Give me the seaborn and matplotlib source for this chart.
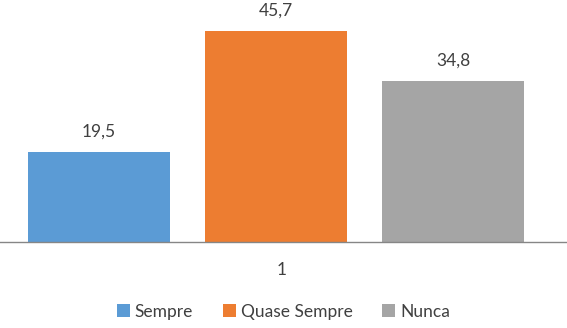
import pandas as pd
import matplotlib.pyplot as plt
import seaborn as sns
from matplotlib.patches import Patch

# Données
series = ["Sempre", "Quase Sempre", "Nunca"]
valores = [19.5, 45.7, 34.8]
cores = ["#5B9BD5", "#ED7D31", "#A5A5A5"]
categoria = "1"

df = pd.DataFrame({"serie": series, "valor": valores})

sns.set_style("white")
plt.rcParams["font.family"] = ["Lato", "DejaVu Sans"]
texto = "#404040"

fig = plt.figure(figsize=(5.67, 3.28), dpi=100)
ax = fig.add_axes([0, 0.262, 1, 0.738])

sns.barplot(data=df, x="serie", y="valor", hue="serie", order=series,
            palette=cores, width=0.80, legend=False, ax=ax, saturation=1,
            edgecolor="none", linewidth=0)

for cont in ax.containers:
    ax.bar_label(cont, labels=[f"{v:.1f}".replace(".", ",") for v in cont.datavalues],
                 padding=9, fontsize=12.5, color=texto)

ax.set_ylim(0, 52.4)
ax.set_xlim(-0.559, 2.644)
ax.set_yticks([])
ax.set_xticks([1.03])
ax.set_xticklabels([categoria], fontsize=12.5, color=texto)
ax.tick_params(axis="x", length=0, pad=14)
ax.set_xlabel("")
ax.set_ylabel("")
for s in ["top", "right", "left"]:
    ax.spines[s].set_visible(False)
ax.spines["bottom"].set_color("#868686")
ax.spines["bottom"].set_linewidth(1)

handles = [Patch(facecolor=c, edgecolor="none") for c in cores]
fig.legend(handles, series, loc="center", bbox_to_anchor=(0.5, 0.05), ncol=3,
           frameon=False, fontsize=12.5, handlelength=0.75, handleheight=0.75,
           handletextpad=0.3, columnspacing=1.7, labelcolor=texto)

plt.savefig("out.png", dpi=100)
plt.close()
